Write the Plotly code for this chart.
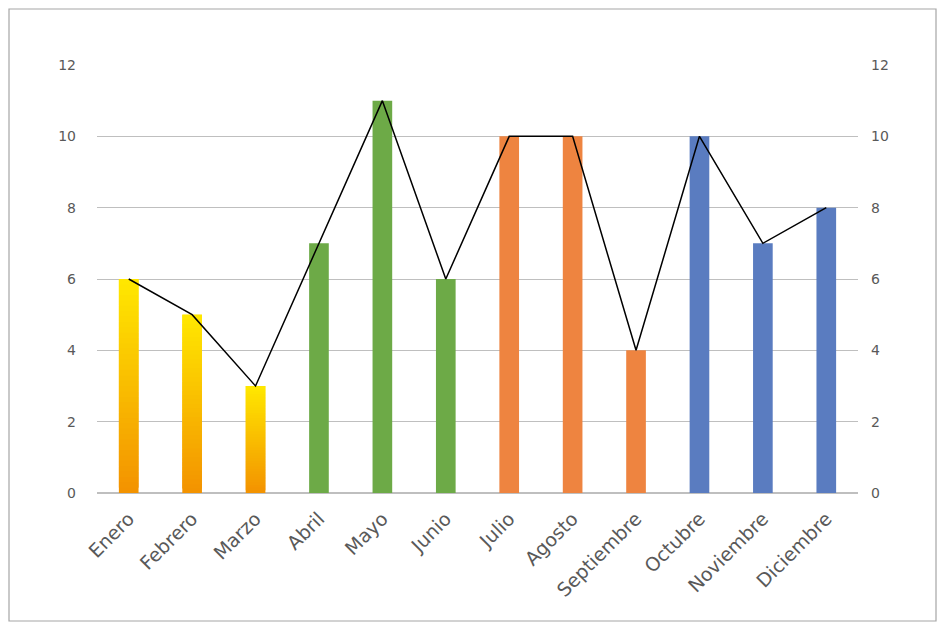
import plotly.graph_objects as go

months = ["Enero", "Febrero", "Marzo", "Abril", "Mayo", "Junio", "Julio",
          "Agosto", "Septiembre", "Octubre", "Noviembre", "Diciembre"]
values = [6, 5, 3, 7, 11, 6, 10, 10, 4, 10, 7, 8]
line_values = [6, 5, 3, 7, 11, 6, 10, 10, 4, 10, 7, 8]
# colour group per month: "grad" = yellow/orange gradient
groups = ["grad", "grad", "grad", "green", "green", "green",
          "orange", "orange", "orange", "blue", "blue", "blue"]

solid = {"green": "#6DAA47", "orange": "#EE8440", "blue": "#5A7CC0"}
grad_bottom = (243, 146, 0)
grad_top = (255, 232, 0)
n_steps = 40

# the page body has an 8px margin, so the figure is shrunk to fit the window
off = 8
W, H = 945 - 2 * off, 630 - 2 * off
ml, mt = 97 - off, 65 - off
mr = W - (858 - off)
mb = H - (493 - off)
font = "DejaVu Sans"
bar_width = 0.31

fig = go.Figure()

# solid bars
sx = [m for m, g in zip(months, groups) if g != "grad"]
sy = [v for v, g in zip(values, groups) if g != "grad"]
sc = [solid[g] for g in groups if g != "grad"]
fig.add_trace(go.Bar(x=sx, y=sy, marker=dict(color=sc, line=dict(width=0)),
                     width=bar_width, hoverinfo="skip"))

# gradient bars built as thin stacked slices (each overlaps the next one up)
gx, gy, gb, gc = [], [], [], []
for m, v, g in zip(months, values, groups):
    if g != "grad":
        continue
    step = v / n_steps
    for k in range(n_steps):
        t = (k + 0.5) / n_steps
        r, gg, b = [round(a + (c - a) * t) for a, c in zip(grad_bottom, grad_top)]
        gx.append(m)
        gy.append(step * (2 if k < n_steps - 1 else 1))
        gb.append(step * k)
        gc.append(f"rgb({r},{gg},{b})")
fig.add_trace(go.Bar(x=gx, y=gy, base=gb, marker=dict(color=gc, line=dict(width=0)),
                     width=bar_width, hoverinfo="skip"))

fig.add_trace(go.Scatter(x=months, y=line_values, mode="lines", yaxis="y2",
                         line=dict(color="black", width=1.5), hoverinfo="skip"))

pw = W - ml - mr
ph = H - mt - mb
fig.add_shape(type="rect", xref="paper", yref="paper",
              x0=-(ml - 1) / pw, x1=1 + (mr - 1) / pw,
              y0=-(mb - 1) / ph, y1=1 + (mt - 1) / ph,
              line=dict(color="#A6A6A6", width=1.2), layer="below")

axis_font = dict(family=font, size=14, color="#595959")
fig.update_layout(
    width=W, height=H,
    margin=dict(l=ml, r=mr, t=mt, b=mb),
    paper_bgcolor="white", plot_bgcolor="white",
    showlegend=False, barmode="overlay",
    font=axis_font,
    xaxis=dict(categoryorder="array", categoryarray=months,
               tickangle=-45, showgrid=False, showline=False, ticks="",
               ticklabelstandoff=10,
               tickfont=dict(family=font, size=19, color="#595959")),
    yaxis=dict(range=[0, 12], dtick=2, showgrid=True, gridcolor="#BFBFBF",
               gridwidth=1, zeroline=True, zerolinecolor="#BFBFBF",
               showline=False, ticks="", ticklabelstandoff=20, tickfont=axis_font),
    yaxis2=dict(range=[0, 12], dtick=2, overlaying="y", side="right",
                showgrid=False, zeroline=False, showline=False, ticks="",
                ticklabelstandoff=12, tickfont=axis_font),
)

fig.write_html("out.html")
